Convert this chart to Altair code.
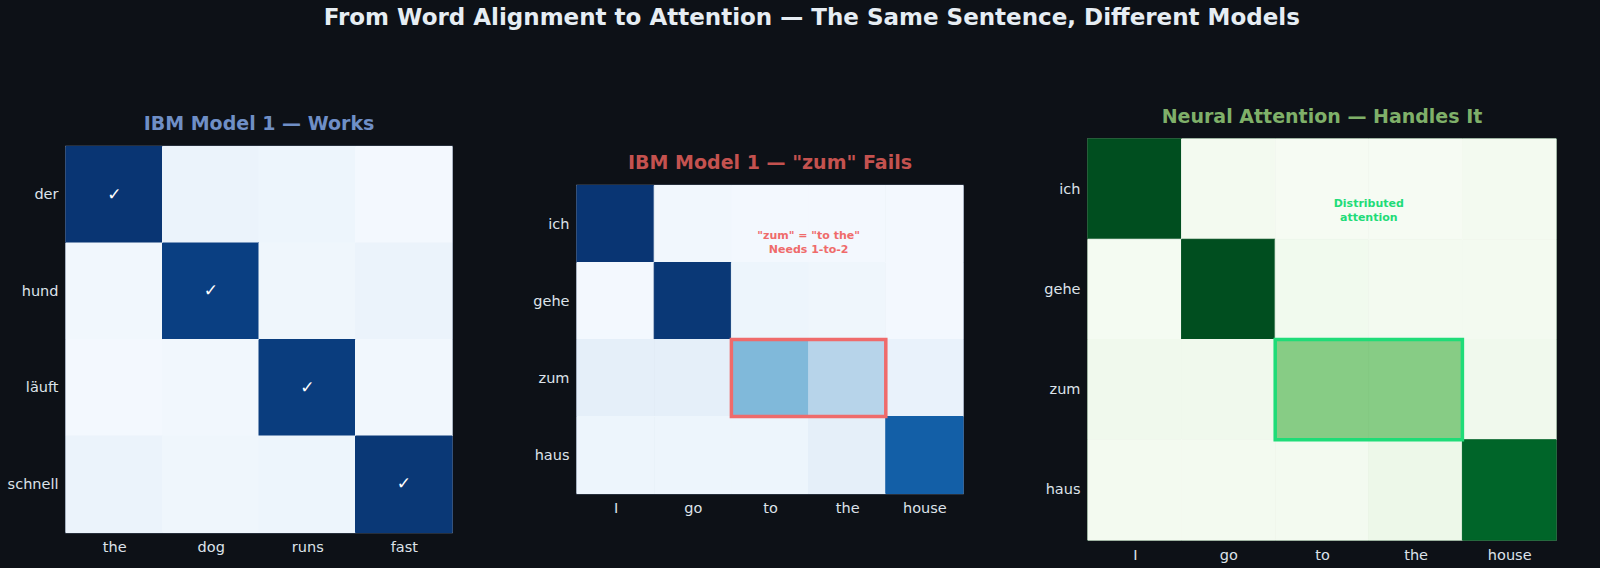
import json
import altair as alt
import pandas as pd

# ---------------- data ----------------
p1_rows = ["der", "hund", "läuft", "schnell"]
p1_cols = ["the", "dog", "runs", "fast"]
p1_vals = [
    [0.98, 0.06, 0.05, 0.02],
    [0.03, 0.94, 0.04, 0.06],
    [0.02, 0.03, 0.95, 0.03],
    [0.06, 0.04, 0.05, 0.97],
]
p1_checks = [("der", "the"), ("hund", "dog"), ("läuft", "runs"), ("schnell", "fast")]

p2_rows = ["ich", "gehe", "zum", "haus"]
p2_cols = ["I", "go", "to", "the", "house"]
p2_vals = [
    [0.98, 0.03, 0.02, 0.02, 0.02],
    [0.02, 0.97, 0.05, 0.04, 0.02],
    [0.09, 0.09, 0.45, 0.30, 0.07],
    [0.05, 0.05, 0.05, 0.09, 0.82],
]
p2_note = ['"zum" = "to the"', "Needs 1-to-2"]

p3_rows = ["ich", "gehe", "zum", "haus"]
p3_cols = ["I", "go", "to", "the", "house"]
p3_vals = [
    [0.97, 0.03, 0.01, 0.01, 0.03],
    [0.02, 0.97, 0.04, 0.03, 0.03],
    [0.05, 0.05, 0.45, 0.45, 0.05],
    [0.03, 0.03, 0.03, 0.07, 0.90],
]
p3_note = ["Distributed", "attention"]

highlight_row = "zum"
highlight_cols = ["to", "the"]
note_pos = (2.5, 0.15)  # data coords (column index, row index)

BLUES = ["#f7fbff", "#deebf7", "#c6dbef", "#9ecae1", "#6baed6",
         "#4292c6", "#2171b5", "#08519c", "#08306b"]
GREENS = ["#f7fcf5", "#e5f5e0", "#c7e9c0", "#a1d99b", "#74c476",
          "#41ab5d", "#238b45", "#006d2c", "#00441b"]

BG = "#0d1117"
FONT = "DejaVu Sans"


def cells(rows, cols, vals):
    recs = []
    for i, r in enumerate(rows):
        for j, c in enumerate(cols):
            recs.append({"ri": i, "ci": j, "row": r, "col": c, "v": vals[i][j]})
    return pd.DataFrame(recs)


def panel(rows, cols, vals, palette, title, title_color, border, w, h,
          checks=None, note=None, note_color=None, hl_color=None):
    df = cells(rows, cols, vals)
    nx, ny = len(cols), len(rows)
    xs = alt.Scale(domain=[-0.5, nx - 0.5], nice=False, zero=False)
    ys = alt.Scale(domain=[-0.5, ny - 0.5], nice=False, zero=False, reverse=True)
    xlab = "%s[datum.value]" % json.dumps(cols, ensure_ascii=False)
    ylab = "%s[datum.value]" % json.dumps(rows, ensure_ascii=False)
    xax = alt.Axis(values=list(range(nx)), labelExpr=xlab, title=None, orient="bottom")
    yax = alt.Axis(values=list(range(ny)), labelExpr=ylab, title=None, orient="left")
    cscale = alt.Scale(domain=[0, 1], range=palette)

    base = alt.Chart(df).transform_calculate(
        x0="datum.ci - 0.5", x1="datum.ci + 0.5",
        y0="datum.ri - 0.5", y1="datum.ri + 0.5")
    heat = base.mark_rect(strokeWidth=1).encode(
        x=alt.X("x0:Q", scale=xs, axis=xax),
        x2="x1:Q",
        y=alt.Y("y0:Q", scale=ys, axis=yax),
        y2="y1:Q",
        color=alt.Color("v:Q", scale=cscale, legend=None),
        stroke=alt.Stroke("v:Q", scale=cscale, legend=None),
    )
    layers = [heat]

    if checks:
        cdf = pd.DataFrame([{"ri": rows.index(r), "ci": cols.index(c), "t": "✓"} for r, c in checks])
        layers.append(alt.Chart(cdf).mark_text(color="white", fontSize=17, font=FONT).encode(
            x=alt.X("ci:Q", scale=xs), y=alt.Y("ri:Q", scale=ys), text="t:N"))

    if hl_color:
        ri = rows.index(highlight_row)
        cis = [cols.index(c) for c in highlight_cols]
        hdf = pd.DataFrame([{"x0": min(cis) - 0.5, "x1": max(cis) + 0.5,
                             "y0": ri - 0.5, "y1": ri + 0.5}])
        layers.append(alt.Chart(hdf).mark_rect(fill=None, stroke=hl_color, strokeWidth=3.5).encode(
            x=alt.X("x0:Q", scale=xs), x2="x1:Q", y=alt.Y("y0:Q", scale=ys), y2="y1:Q"))

    if note:
        ndf = pd.DataFrame([{"x": note_pos[0], "y": note_pos[1], "t": note}])
        layers.append(alt.Chart(ndf).mark_text(color=note_color, fontSize=11, fontWeight="bold",
                                               font=FONT, lineHeight=14, baseline="middle").encode(
            x=alt.X("x:Q", scale=xs), y=alt.Y("y:Q", scale=ys), text="t"))

    return alt.layer(*layers).properties(
        width=w, height=h,
        title=alt.TitleParams(title, color=title_color, fontSize=19, fontWeight="bold",
                              font=FONT, offset=12),
        view=alt.ViewBackground(stroke=border, strokeWidth=1.5),
    )


c1 = panel(p1_rows, p1_cols, p1_vals, BLUES, "IBM Model 1 — Works", "#6f8fc6", "#7a8aa6",
           386, 386, checks=p1_checks)
c2 = panel(p2_rows, p2_cols, p2_vals, BLUES, 'IBM Model 1 — "zum" Fails', "#c4524f", "#7a8aa6",
           386, 308, note=p2_note, note_color="#ef6b6b", hl_color="#ef6b6b")
c3 = panel(p3_rows, p3_cols, p3_vals, GREENS, "Neural Attention — Handles It", "#7fb069", "#5f8a6a",
           468, 401, note=p3_note, note_color="#1fdc78", hl_color="#1fdc78")

chart = alt.hconcat(c1, c2, c3, spacing=125, bounds="flush", center=True).resolve_scale(
    color="independent", stroke="independent", x="independent", y="independent"
).properties(
    background=BG,
    padding={"left": 6, "top": 6, "right": 42, "bottom": 5},
    title=alt.TitleParams(
        "From Word Alignment to Attention — The Same Sentence, Different Models",
        color="#e6edf3", fontSize=23, fontWeight="bold", font=FONT, offset=77, anchor="middle",
        dx=30),
).configure_axis(
    domain=False, ticks=False, grid=False, labelColor="#dde3ea", labelFont=FONT,
    labelFontSize=14.5, labelPadding=8,
).configure_view(stroke=None)

chart.save("out.html", embed_options={"renderer": "svg", "actions": False})
